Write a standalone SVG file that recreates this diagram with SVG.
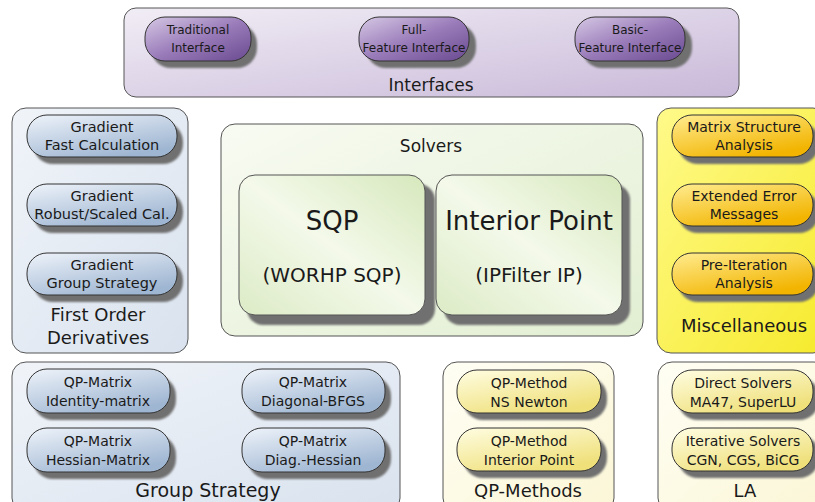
<svg xmlns="http://www.w3.org/2000/svg" width="815" height="502" viewBox="0 0 815 502">
<defs>
<linearGradient id="gIfPanel" x1="0" y1="0" x2="1" y2="1"><stop offset="0" stop-color="#f1edf5"/><stop offset="1" stop-color="#c9b9d9"/></linearGradient>
<linearGradient id="gIfPill" x1="0" y1="0" x2="1" y2="1"><stop offset="0" stop-color="#d6c8e4"/><stop offset="0.5" stop-color="#9a7cba"/><stop offset="1" stop-color="#6a4a90"/></linearGradient>
<linearGradient id="gBluePanel" x1="0" y1="0" x2="1" y2="1"><stop offset="0" stop-color="#f0f4f9"/><stop offset="1" stop-color="#d9e2ee"/></linearGradient>
<linearGradient id="gBluePill" x1="0" y1="0" x2="0.6" y2="1"><stop offset="0" stop-color="#eef3fa"/><stop offset="1" stop-color="#9fb6d2"/></linearGradient>
<linearGradient id="gGreenPanel" x1="0" y1="0" x2="1" y2="1"><stop offset="0" stop-color="#f8fbf2"/><stop offset="1" stop-color="#e2efd2"/></linearGradient>
<linearGradient id="gGreenBox" x1="1" y1="0" x2="0" y2="1"><stop offset="0" stop-color="#d6e8bc"/><stop offset="0.5" stop-color="#f4f9ea"/><stop offset="1" stop-color="#dcebc6"/></linearGradient>
<linearGradient id="gYellowPanel" x1="0" y1="0" x2="1" y2="1"><stop offset="0" stop-color="#fffa8a"/><stop offset="1" stop-color="#f6ea2c"/></linearGradient>
<linearGradient id="gOrangePill" x1="0" y1="0" x2="0.6" y2="1"><stop offset="0" stop-color="#ffec90"/><stop offset="1" stop-color="#f2b400"/></linearGradient>
<linearGradient id="gPalePanel" x1="0" y1="0" x2="1" y2="1"><stop offset="0" stop-color="#fffef4"/><stop offset="1" stop-color="#fbf6d6"/></linearGradient>
<linearGradient id="gPalePill" x1="0" y1="0" x2="0.6" y2="1"><stop offset="0" stop-color="#fffde2"/><stop offset="1" stop-color="#efe07a"/></linearGradient>
<filter id="blur" x="-10%" y="-20%" width="120%" height="140%"><feGaussianBlur stdDeviation="1.2"/></filter>
</defs>
<style>
.panel{stroke:#555;stroke-width:1}
.pill{stroke:#333;stroke-width:1}
.shadow{fill:#707070;filter:url(#blur)}
text{font-family:"DejaVu Sans","Verdana",sans-serif;fill:#1a1a1a;text-anchor:middle}
.t13{font-size:12px}
.t14{font-size:14px}
.t15{font-size:14.5px}
.lbl{font-size:17px}
.lbl18{font-size:18px}
.big{font-size:26px}
.mid{font-size:20px}
</style>
<g id="connectors"/>

<g id="interfaces">
<rect class="panel" x="124" y="8" width="615" height="89" rx="12" fill="url(#gIfPanel)"/>
<rect class="shadow" x="151" y="24" width="106" height="44" rx="20"/>
<rect class="pill" x="145" y="17" width="106" height="44" rx="20" fill="url(#gIfPill)"/>
<text class="t13" x="198" y="34">Traditional</text><text class="t13" x="198" y="52">Interface</text>
<rect class="shadow" x="366" y="24" width="110" height="44" rx="20"/>
<rect class="pill" x="359" y="17" width="110" height="44" rx="20" fill="url(#gIfPill)"/>
<text class="t13" x="414" y="34">Full-</text><text class="t13" x="414" y="52">Feature Interface</text>
<rect class="shadow" x="582" y="24" width="110" height="44" rx="20"/>
<rect class="pill" x="575" y="17" width="110" height="44" rx="20" fill="url(#gIfPill)"/>
<text class="t13" x="630" y="34">Basic-</text><text class="t13" x="630" y="52">Feature Interface</text>
<text class="lbl" x="431" y="91">Interfaces</text>
</g>

<g id="first-order">
<rect class="panel" x="12" y="108" width="176" height="245" rx="14" fill="url(#gBluePanel)"/>
<rect class="shadow" x="33" y="122" width="150" height="42" rx="20"/>
<rect class="pill" x="27" y="115" width="150" height="42" rx="20" fill="url(#gBluePill)"/>
<text class="t15" x="102" y="132">Gradient</text><text class="t15" x="102" y="150">Fast Calculation</text>
<rect class="shadow" x="33" y="191" width="150" height="42" rx="20"/>
<rect class="pill" x="27" y="184" width="150" height="42" rx="20" fill="url(#gBluePill)"/>
<text class="t15" x="102" y="201">Gradient</text><text class="t15" x="102" y="219">Robust/Scaled Cal.</text>
<rect class="shadow" x="33" y="260" width="150" height="42" rx="20"/>
<rect class="pill" x="27" y="253" width="150" height="42" rx="20" fill="url(#gBluePill)"/>
<text class="t15" x="102" y="270">Gradient</text><text class="t15" x="102" y="288">Group Strategy</text>
<text class="lbl18" x="98" y="321">First Order</text>
<text class="lbl18" x="98" y="344">Derivatives</text>
</g>

<g id="solvers">
<rect class="panel" x="221" y="124" width="422" height="212" rx="14" fill="url(#gGreenPanel)"/>
<text class="lbl" x="431" y="152">Solvers</text>
<rect class="shadow" x="247" y="184" width="188" height="141" rx="16"/>
<rect class="panel" x="239" y="175" width="186" height="140" rx="16" fill="url(#gGreenBox)"/>
<text class="big" x="332" y="230">SQP</text>
<text class="mid" x="332" y="282">(WORHP SQP)</text>
<rect class="shadow" x="444" y="184" width="186" height="141" rx="16"/>
<rect class="panel" x="436" y="175" width="186" height="140" rx="16" fill="url(#gGreenBox)"/>
<text class="big" x="529" y="230">Interior Point</text>
<text class="mid" x="529" y="282">(IPFilter IP)</text>
</g>

<g id="misc">
<rect class="panel" x="657" y="108" width="170" height="245" rx="14" fill="url(#gYellowPanel)"/>
<rect class="shadow" x="678" y="122" width="141" height="42" rx="20"/>
<rect class="pill" x="672" y="115" width="141" height="42" rx="20" fill="url(#gOrangePill)"/>
<text class="t14" x="744" y="132">Matrix Structure</text><text class="t14" x="744" y="150">Analysis</text>
<rect class="shadow" x="678" y="191" width="141" height="42" rx="20"/>
<rect class="pill" x="672" y="184" width="141" height="42" rx="20" fill="url(#gOrangePill)"/>
<text class="t14" x="744" y="201">Extended Error</text><text class="t14" x="744" y="219">Messages</text>
<rect class="shadow" x="678" y="260" width="141" height="42" rx="20"/>
<rect class="pill" x="672" y="253" width="141" height="42" rx="20" fill="url(#gOrangePill)"/>
<text class="t14" x="744" y="270">Pre-Iteration</text><text class="t14" x="744" y="288">Analysis</text>
<text class="lbl18" x="744" y="332">Miscellaneous</text>
</g>

<g id="group-strategy">
<rect class="panel" x="12" y="362" width="388" height="150" rx="14" fill="url(#gBluePanel)"/>
<rect class="shadow" x="33" y="376" width="143" height="44" rx="20"/>
<rect class="pill" x="27" y="369" width="143" height="44" rx="20" fill="url(#gBluePill)"/>
<text class="t14" x="98" y="387">QP-Matrix</text><text class="t14" x="98" y="406">Identity-matrix</text>
<rect class="shadow" x="248" y="376" width="143" height="44" rx="20"/>
<rect class="pill" x="242" y="369" width="143" height="44" rx="20" fill="url(#gBluePill)"/>
<text class="t14" x="313" y="387">QP-Matrix</text><text class="t14" x="313" y="406">Diagonal-BFGS</text>
<rect class="shadow" x="33" y="435" width="143" height="44" rx="20"/>
<rect class="pill" x="27" y="428" width="143" height="44" rx="20" fill="url(#gBluePill)"/>
<text class="t14" x="98" y="446">QP-Matrix</text><text class="t14" x="98" y="465">Hessian-Matrix</text>
<rect class="shadow" x="248" y="435" width="143" height="44" rx="20"/>
<rect class="pill" x="242" y="428" width="143" height="44" rx="20" fill="url(#gBluePill)"/>
<text class="t14" x="313" y="446">QP-Matrix</text><text class="t14" x="313" y="465">Diag.-Hessian</text>
<text class="lbl18" style="font-size:19px" x="208" y="497">Group Strategy</text>
</g>

<g id="qp-methods">
<rect class="panel" x="443" y="362" width="171" height="150" rx="14" fill="url(#gPalePanel)"/>
<rect class="shadow" x="463" y="377" width="144" height="43" rx="20"/>
<rect class="pill" x="457" y="370" width="144" height="43" rx="20" fill="url(#gPalePill)"/>
<text class="t14" x="529" y="388">QP-Method</text><text class="t14" x="529" y="407">NS Newton</text>
<rect class="shadow" x="463" y="435" width="144" height="43" rx="20"/>
<rect class="pill" x="457" y="428" width="144" height="43" rx="20" fill="url(#gPalePill)"/>
<text class="t14" x="529" y="446">QP-Method</text><text class="t14" x="529" y="465">Interior Point</text>
<text class="lbl18" x="528" y="497">QP-Methods</text>
</g>

<g id="la">
<rect class="panel" x="658" y="362" width="170" height="150" rx="14" fill="url(#gPalePanel)"/>
<rect class="shadow" x="678" y="377" width="141" height="43" rx="20"/>
<rect class="pill" x="672" y="370" width="141" height="43" rx="20" fill="url(#gPalePill)"/>
<text class="t14" x="743" y="388">Direct Solvers</text><text class="t14" x="743" y="407">MA47, SuperLU</text>
<rect class="shadow" x="678" y="435" width="141" height="43" rx="20"/>
<rect class="pill" x="672" y="428" width="141" height="43" rx="20" fill="url(#gPalePill)"/>
<text class="t14" x="743" y="446">Iterative Solvers</text><text class="t14" x="743" y="465">CGN, CGS, BiCG</text>
<text class="lbl18" x="745" y="497">LA</text>
</g>
</svg>
